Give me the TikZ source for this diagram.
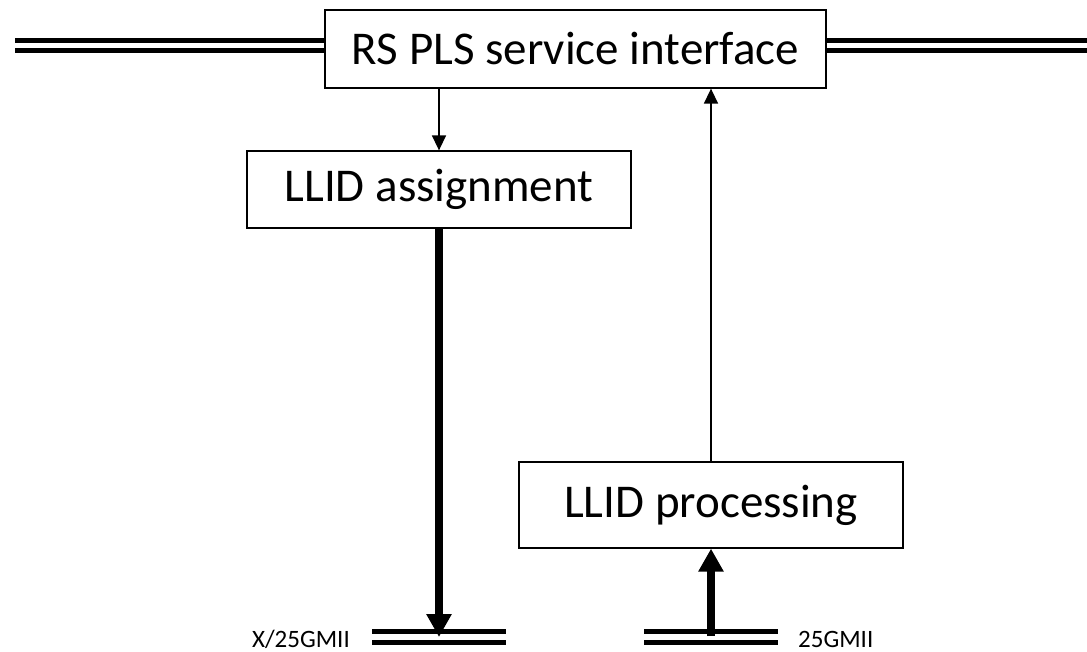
\documentclass[tikz,border=0pt]{standalone}
\usepackage{fontspec}
\setmainfont{Carlito}
\usetikzlibrary{arrows.meta}
\tikzset{
  blockbox/.style={draw=black, line width=1.3pt, fill=white, inner sep=0pt,
    font=\fontsize{47}{56}\selectfont},
  busline/.style={line width=5pt},
  thinarrow/.style={line width=1.5pt, -{Triangle[width=14pt,length=15pt]}},
  thickarrow/.style={line width=8pt, -{Triangle[width=24pt,length=23pt]}},
  buslabel/.style={inner sep=0pt, font=\fontsize{25}{30}\selectfont}
}
\begin{document}
\begin{tikzpicture}[x=1pt,y=-1pt]
\useasboundingbox (0,0) rectangle (1087,652);
% nodes
\node[blockbox, minimum width=501pt, minimum height=78pt] (top) at (575.5,49) {RS PLS service interface};
\node[blockbox, minimum width=384pt, minimum height=77pt] (assign) at (439,189.5) {LLID assignment};
\node[blockbox, minimum width=384pt, minimum height=86pt] (proc) at (711,505) {LLID processing};
% bus end points
\coordinate (tl) at (15,45.5);
\coordinate (tr) at (1087,45.5);
\coordinate (bl) at (439,637);
\coordinate (br) at (711,637);
\coordinate (bll) at (372,637);
\coordinate (blr) at (506,637);
\coordinate (brl) at (644,637);
\coordinate (brr) at (778,637);
% top bus
\draw[busline] ([yshift=-5pt]tl) -- ([yshift=-5pt]tl -| top.west);
\draw[busline] ([yshift=5pt]tl) -- ([yshift=5pt]tl -| top.west);
\draw[busline] ([yshift=-5pt]tr -| top.east) -- ([yshift=-5pt]tr);
\draw[busline] ([yshift=5pt]tr -| top.east) -- ([yshift=5pt]tr);
% bottom buses
\draw[busline] ([yshift=-5.5pt]bll) -- ([yshift=-5.5pt]blr);
\draw[busline] ([yshift=5.5pt]bll) -- ([yshift=5.5pt]blr);
\draw[busline] ([yshift=-5.5pt]brl) -- ([yshift=-5.5pt]brr);
\draw[busline] ([yshift=5.5pt]brl) -- ([yshift=5.5pt]brr);
% connectors
\draw[thinarrow] (top.south -| assign.north) -- (assign.north);
\draw[thinarrow] (proc.north) -- (top.south -| proc.north);
\draw[thickarrow] (assign.south) -- (bl);
\draw[thickarrow] ([yshift=1pt]br) -- (proc.south);
% labels
\node[buslabel, anchor=base east] (lx) at (350,647) {X/25GMII};
\node[buslabel, anchor=base west] (rx) at (798,647) {25GMII};
\end{tikzpicture}
\end{document}
